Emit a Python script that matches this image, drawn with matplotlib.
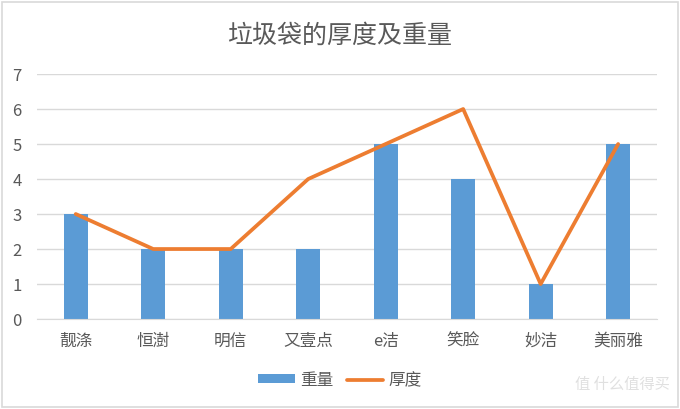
import matplotlib
matplotlib.use("Agg")
import matplotlib.pyplot as plt
from matplotlib.patches import Rectangle

plt.rcParams['font.family'] = ['Noto Sans CJK SC', 'DejaVu Sans']

categories = ['靓涤', '恒澍', '明信', '又壹点', 'e洁', '笑脸', '妙洁', '美丽雅']
weight = [3, 2, 2, 2, 5, 4, 1, 5]
thickness = [3, 2, 2, 4, 5, 6, 1, 5]
yticks = [0, 1, 2, 3, 4, 5, 6, 7]

fig = plt.figure(figsize=(6.8, 4.09), dpi=100)
fig.patch.set_facecolor('white')
fig.patches.append(Rectangle((0.003, 0.004), 0.994, 0.992, transform=fig.transFigure,
                             fill=False, edgecolor='#d9d9d9', linewidth=1.2))

ax = fig.add_axes([0.0544, 0.220, 0.9116, 0.599])
x = list(range(len(categories)))
bars = ax.bar(x, weight, width=0.31, color='#5B9BD5', label='重量', zorder=2)
line, = ax.plot(x, thickness, color='#ED7D31', linewidth=2.7, label='厚度', zorder=3,
                solid_capstyle='round')

ax.set_xlim(-0.5, len(categories) - 0.5)
ax.set_ylim(0, 7)
ax.set_yticks(yticks)
ax.set_xticks(x)
ax.set_xticklabels(categories)
ax.yaxis.grid(True, color='#d9d9d9', linewidth=1)
ax.set_axisbelow(True)
for s in ['top', 'right', 'left']:
    ax.spines[s].set_visible(False)
ax.spines['bottom'].set_color('#d9d9d9')
ax.tick_params(axis='both', length=0, colors='#595959', labelsize=12)
ax.tick_params(axis='y', pad=11)
ax.tick_params(axis='x', pad=10)

fig.text(0.5, 0.913, '垃圾袋的厚度及重量', ha='center', va='center',
         fontsize=18, color='#595959', fontweight='light')

leg = fig.legend([bars, line], ['重量', '厚度'], loc='center', bbox_to_anchor=(0.5, 0.07),
                 ncol=2, frameon=False, fontsize=12, handlelength=2.2, handleheight=0.45,
                 columnspacing=0.8, handletextpad=0.3)
for t in leg.get_texts():
    t.set_color('#595959')

fig.text(0.985, 0.06, '值 什么值得买', ha='right', va='center', fontsize=11,
         color='#e0e0e0')

fig.savefig('out.png', dpi=100, facecolor='white')
